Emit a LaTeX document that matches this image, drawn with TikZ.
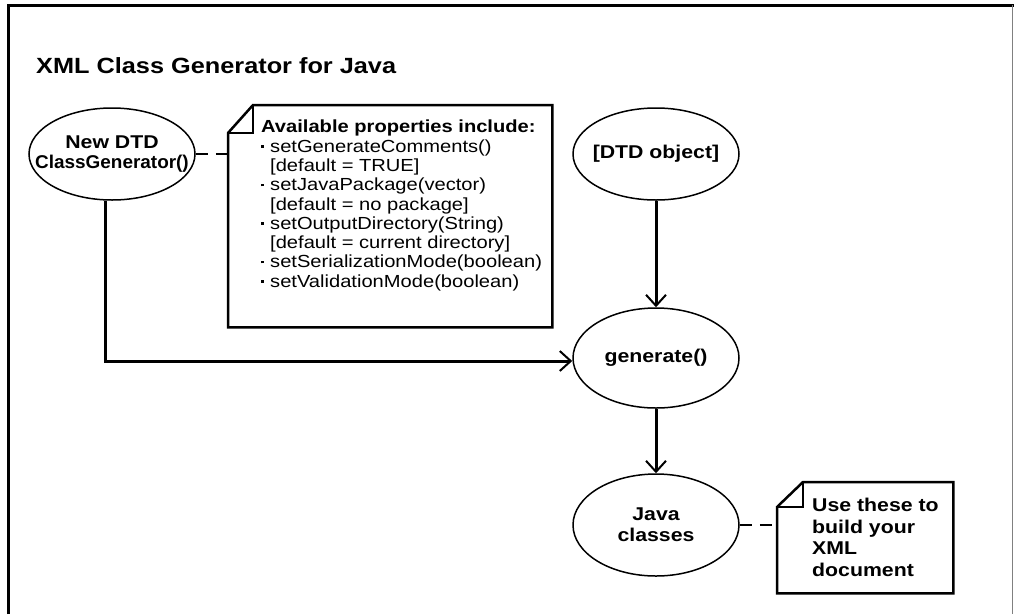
\documentclass[tikz,border=0pt]{standalone}
\usepackage{fontspec}
\setmainfont{Liberation Sans}[FakeStretch=1.15]
\usetikzlibrary{arrows.meta,shapes.geometric,calc}
\begin{document}
\begin{tikzpicture}[x=1pt,y=-1pt,
  oval/.style={draw,ellipse,line width=1.5pt,minimum width=166pt,minimum height=92pt,inner xsep=-25pt,inner ysep=-12pt,align=center,font=\fontsize{18.5}{21}\selectfont\bfseries},
  flow/.style={line width=3pt,-{Straight Barb[length=11pt,width=20pt,line width=2pt]}},
  link/.style={line width=2pt,dash pattern=on 12pt off 8pt},
  notebox/.style={draw=none,rectangle,inner sep=0pt,anchor=north west},
  noteline/.style={line width=2.5pt,line join=miter}]
\useasboundingbox (0,0) rectangle (1014,614);
% frame
\draw[line width=3pt] (8,614) -- (8,5) -- (1014,5);
\draw[line width=1.2pt,gray] (1012.5,5) -- (1012.5,614);
% title
\node[anchor=west,inner sep=0pt,font=\fontsize{22}{24}\selectfont\bfseries] (title) at (36,66) {XML Class Generator for Java};
% ovals
\node[oval,font=\fontsize{18.5}{20}\selectfont\bfseries] (cg) at (112,154) {New DTD\\\scalebox{0.89}[1]{ClassGenerator()}};
\node[oval] (dtd) at (656,154) {[DTD object]};
\node[oval,minimum height=100pt] (gen) at (656,358) {generate()};
\node[oval,minimum height=102pt] (jc) at (656,525) {Java\\classes};
% note 1
\node[notebox,minimum width=324pt,minimum height=222pt] (n1) at (228,105) {};
\draw[noteline] ($(n1.north west)+(0,28)$) -- ($(n1.north west)+(25,0)$) -- (n1.north east) -- (n1.south east) -- (n1.south west) -- cycle;
\draw[noteline] ($(n1.north west)+(25,0)$) -- ($(n1.north west)+(25,28)$) -- ($(n1.north west)+(0,28)$);
\newcommand{\sqb}{\makebox[9pt][l]{\rule[4.5pt]{2.5pt}{2.5pt}}}
\node[anchor=north west,align=left,inner sep=0pt,font=\fontsize{17.5}{19.3}\selectfont] (n1t) at (261,120) {%
{\bfseries Available properties include:}\\
\sqb setGenerateComments()\\
\hspace*{9pt}[default = TRUE]\\
\sqb setJavaPackage(vector)\\
\hspace*{9pt}[default = no package]\\
\sqb setOutputDirectory(String)\\
\hspace*{9pt}[default = current directory]\\
\sqb setSerializationMode(boolean)\\
\sqb setValidationMode(boolean)};
% note 2
\node[notebox,minimum width=176pt,minimum height=111pt] (n2) at (777,482) {};
\draw[noteline] ($(n2.north west)+(0,25)$) -- ($(n2.north west)+(26,0)$) -- (n2.north east) -- (n2.south east) -- (n2.south west) -- cycle;
\draw[noteline] ($(n2.north west)+(26,0)$) -- ($(n2.north west)+(26,25)$) -- ($(n2.north west)+(0,25)$);
\node[anchor=north west,align=left,inner sep=0pt,font=\fontsize{18.5}{21.5}\selectfont\bfseries] (n2t) at (812,498) {Use these to\\build your\\XML\\document};
% connectors
\draw[link] (cg.east) -- (n1.west |- cg.east);
\draw[link] (jc.east) -- (n2.west |- jc.east);
\draw[flow] (dtd.south) -- (gen.north);
\draw[flow] (gen.south) -- (jc.north);
\coordinate (corner) at (105,361);
\draw[flow] (cg.south -| corner) -- (corner) -- (gen.west |- corner);
\end{tikzpicture}
\end{document}
